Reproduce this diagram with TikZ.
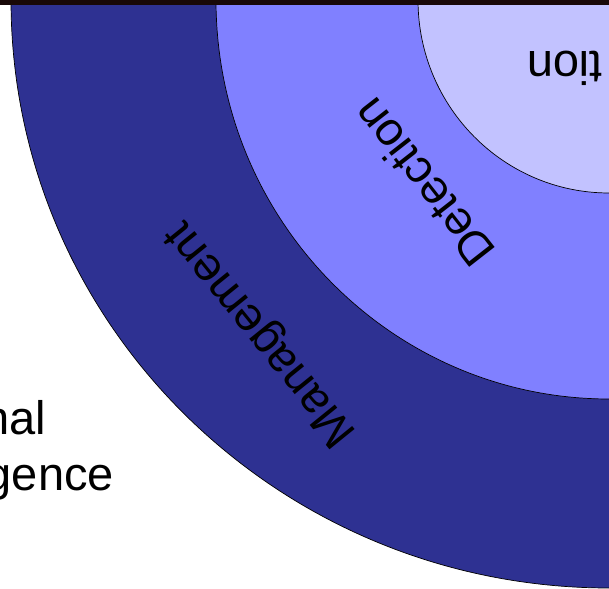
\documentclass[tikz,border=0pt]{standalone}
\usepackage{fontspec}
\setmainfont{Liberation Sans}
\usetikzlibrary{positioning}
\definecolor{mgmtblue}{RGB}{46,49,146}
\definecolor{detblue}{RGB}{128,128,255}
\definecolor{prevblue}{RGB}{194,194,255}
\definecolor{topbar}{RGB}{24,8,8}
\tikzstyle{ring} = [draw=black, line width=0.7pt]
\tikzstyle{ringtext} = [text=black, inner sep=0pt, font=\fontsize{47}{56}\selectfont]

\begin{document}
\begin{tikzpicture}[x=1pt, y=1pt]
\useasboundingbox (0,0) rectangle (609,588);
\clip (0,0) rectangle (609,588);

\coordinate (corner) at (609,588);
\filldraw[ring, fill=mgmtblue] (corner) ellipse [x radius=598pt, y radius=588pt];
\filldraw[ring, fill=detblue] (corner) ellipse [x radius=393pt, y radius=399pt];
\filldraw[ring, fill=prevblue] (corner) ellipse [x radius=191pt, y radius=193pt];
\fill[topbar] (0,583) rectangle (609,588);

\node (mgmt) [ringtext, rotate=129] at (262,255) {Management};
\node (detect) [ringtext, rotate=128] at (423,405) {Detection};
\node (prev) [ringtext, rotate=180, anchor=base east] at (527,536) {tion};

\node (opline) [ringtext, anchor=base east] at (46,153) {nal};
\node (intline) [ringtext, anchor=base east] at (114,97) {gence};
\end{tikzpicture}
\end{document}
